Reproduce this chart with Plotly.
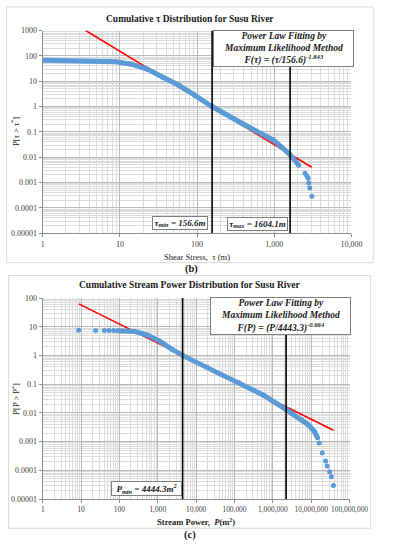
import plotly.graph_objects as go

# ---------------- data ----------------
tau_x = [1, 2.0, 6.6, 8.8, 14.1, 22.6, 36.1, 58, 92.7, 156, 380, 977, 1563, 2075,
         2505, 2650, 2750, 2800, 2885, 3077]
tau_p = [67, 65, 60, 58.6, 47, 30.1, 14.4, 6.9, 2.83, 1.0, 0.22, 0.047, 0.0137, 0.0048,
         0.0023, 0.0018, 0.00148, 0.00095, 0.00061, 0.00029]
tau_fit_x = [3.6, 3050]
tau_fit_p = [1000, 0.0040]
tau_lines = [156.6, 1604.1]

sp_x = [8.67, 24.1, 40.3, 53.5, 71, 89.5, 248, 520, 1153, 2415, 4700, 19450, 1.29e5,
        5.89e5, 2.22e6, 5.73e6, 8.34e6, 1.22e7, 1.47e7, 1.62e7, 1.95e7, 2.37e7, 2.6e7,
        3.03e7, 3.34e7, 3.8e7]
sp_p = [7.6, 7.5, 7.45, 7.4, 7.4, 7.35, 6.85, 5.24, 3.11, 1.6, 0.97, 0.379, 0.116,
        0.0407, 0.0131, 0.00567, 0.0039, 0.00225, 0.00136, 0.000895, 0.00041, 0.000211,
        0.000143, 8.9e-5, 6.0e-5, 2.96e-5]
sp_fit_x = [8.7, 3.8e7]
sp_fit_p = [63, 0.0025]
sp_lines = [4444.3, 2.22e6]

tau_xticks = [1, 10, 100, 1000, 10000]
tau_xlabels = ["1", "10", "100", "1,000", "10,000"]
tau_yticks = [1e-5, 1e-4, 1e-3, 1e-2, 1e-1, 1, 10, 100, 1000]
tau_ylabels = ["0.00001", "0.0001", "0.001", "0.01", "0.1", "1", "10", "100", "1000"]

sp_xticks = [1, 10, 100, 1e3, 1e4, 1e5, 1e6, 1e7, 1e8]
sp_xlabels = ["1", "10", "100", "1,000", "10,000", "100,000", "1,000,000",
              "10,000,000", "100,000,000"]
sp_yticks = [1e-5, 1e-4, 1e-3, 1e-2, 1e-1, 1, 10, 100]
sp_ylabels = ["0.00001", "0.0001", "0.001", "0.01", "0.1", "1", "10", "100"]

# ---------------- styling ----------------
W, H = 396, 550
BLUE = "#5B9BD5"
RED = "#FF0000"
SERIF = "Liberation Serif"


def px(x):
    return x / W


def py(y):
    return 1 - y / H


fig = go.Figure()

# --- top chart ---
fig.add_trace(go.Scatter(x=tau_fit_x, y=tau_fit_p, mode="lines",
                         line=dict(color=RED, width=1.6), xaxis="x", yaxis="y",
                         showlegend=False))
fig.add_trace(go.Scatter(x=tau_x[:14], y=tau_p[:14], mode="lines",
                         line=dict(color=BLUE, width=5), xaxis="x", yaxis="y",
                         showlegend=False, hoverinfo="skip"))
fig.add_trace(go.Scatter(x=tau_x, y=tau_p, mode="markers",
                         marker=dict(color=BLUE, size=5), xaxis="x", yaxis="y",
                         showlegend=False))
for v in tau_lines:
    fig.add_trace(go.Scatter(x=[v, v], y=[1e-5, 1e3], mode="lines",
                             line=dict(color="black", width=1.6), xaxis="x", yaxis="y",
                             showlegend=False, hoverinfo="skip"))

# --- bottom chart ---
fig.add_trace(go.Scatter(x=sp_fit_x, y=sp_fit_p, mode="lines",
                         line=dict(color=RED, width=1.6), xaxis="x2", yaxis="y2",
                         showlegend=False))
fig.add_trace(go.Scatter(x=sp_x[5:19], y=sp_p[5:19], mode="lines",
                         line=dict(color=BLUE, width=5), xaxis="x2", yaxis="y2",
                         showlegend=False, hoverinfo="skip"))
fig.add_trace(go.Scatter(x=sp_x, y=sp_p, mode="markers",
                         marker=dict(color=BLUE, size=5), xaxis="x2", yaxis="y2",
                         showlegend=False))
for v in sp_lines:
    fig.add_trace(go.Scatter(x=[v, v], y=[1e-5, 1e2], mode="lines",
                             line=dict(color="black", width=1.6), xaxis="x2", yaxis="y2",
                             showlegend=False, hoverinfo="skip"))

minor = dict(dtick="D1", showgrid=True, gridcolor="#DCDCDC", gridwidth=1, ticks="")


def axis(domain, rng, tv, tt, anchor, title=None, fs=8):
    d = dict(type="log", domain=domain, range=rng, tickmode="array", tickvals=tv,
             ticktext=tt, tickfont=dict(family=SERIF, size=fs, color="#404040"),
             tickangle=0, showgrid=True, gridcolor="#B8B8B8",
             gridwidth=1, showline=True, linecolor="#8C8C8C", linewidth=1,
             ticks="outside", ticklen=3, tickcolor="#8C8C8C", zeroline=False,
             minor=minor, anchor=anchor, fixedrange=True)
    if title:
        d["title"] = title
    return d


fig.update_layout(
    width=W, height=H,
    margin=dict(l=0, r=0, t=0, b=0),
    paper_bgcolor="white", plot_bgcolor="white",
    xaxis=axis([px(43), px(369)], [0, 4], tau_xticks, tau_xlabels, "y",
               dict(text="Shear Stress,  τ (m)", font=dict(family=SERIF, size=8.5, color="#262626"),
                    standoff=6)),
    yaxis=axis([py(233), py(27)], [-5, 3], tau_yticks, tau_ylabels, "x"),
    xaxis2=axis([px(43), px(367)], [0, 8], sp_xticks, sp_xlabels, "y2",
                dict(text="<b>Stream Power,  <i>P</i>(m<sup>2</sup>)</b>",
                     font=dict(family=SERIF, size=8.5, color="#262626"), standoff=6), fs=7.4),
    yaxis2=axis([py(503.3), py(299)], [-5, 2], sp_yticks, sp_ylabels, "x2"),
)

# container frames
fig.add_shape(type="rect", xref="paper", yref="paper", x0=px(5), x1=px(392), y0=py(263), y1=py(3),
              line=dict(color="#D9D9D9", width=1), layer="below")
fig.add_shape(type="rect", xref="paper", yref="paper", x0=px(7), x1=px(389), y0=py(533), y1=py(276),
              line=dict(color="#D9D9D9", width=1), layer="below")


def note(x, y, text, size=9.5, border=True, w=None, h=None, angle=0):
    a = dict(xref="paper", yref="paper", x=px(x), y=py(y), text=text, showarrow=False,
             font=dict(family=SERIF, size=size, color="#1a1a1a"), xanchor="center",
             yanchor="middle", align="center", textangle=angle)
    if border:
        a.update(bgcolor="white", bordercolor="#7F7F7F", borderwidth=1, borderpad=1)
    if w:
        a["width"] = w
    if h:
        a["height"] = h
    fig.add_annotation(**a)


# titles
note(198, 15, "<b>Cumulative τ Distribution for Susu River</b>", size=9.5, border=False)
note(198, 286, "<b>Cumulative Stream Power Distribution for Susu River</b>", size=9.5, border=False)

# y-axis titles
note(15, 130, "P[τ > τ<sup>*</sup>]", size=8.5, border=False, angle=-90)
note(15, 401, "P[P > P<sup>*</sup>]", size=8.5, border=False, angle=-90)

# fit boxes
note(297.5, 45.5, "<b><i>Power Law Fitting by<br>Maximum Likelihood Method<br>"
     "F(τ) = (τ/156.6)<sup>-1.843</sup></i></b>", size=9.5, w=137, h=33)
note(294.5, 317, "<b><i>Power Law Fitting by<br>Maximum Likelihood Method<br>"
     "F(P) = (P/4443.3)<sup>-0.664</sup></i></b>", size=9.5, w=137, h=34)

# threshold labels
note(188, 223, "<b><i>τ<sub>min</sub> = 156.6m</i></b>", size=9, w=52, h=10)
note(269.5, 224, "<b><i>τ<sub>max</sub> = 1604.1m</i></b>", size=9, w=57, h=10)
note(152.5, 493, "<b><i>P<sub>min</sub> = 4444.3m<sup>2</sup></i></b>", size=9, w=67, h=11)

# panel labels
note(200, 269, "<b>(b)</b>", size=10.5, border=False)
note(198, 540, "<b>(c)</b>", size=10.5, border=False)

fig.write_html("out.html", config={"displayModeBar": False},
               post_script="document.body.style.margin='0';document.body.style.overflow='hidden';")
